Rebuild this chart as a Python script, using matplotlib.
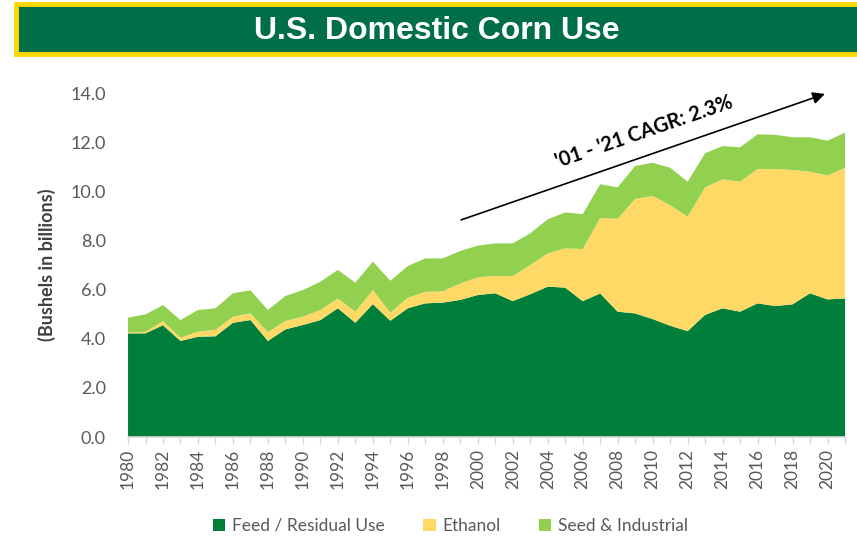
import matplotlib.pyplot as plt
import numpy as np
from matplotlib.patches import Rectangle

# Data (billions of bushels)
years = list(range(1980, 2022))
feed = [4.22, 4.22, 4.55, 3.91, 4.08, 4.10, 4.65, 4.76, 3.91, 4.38,
        4.56, 4.76, 5.24, 4.65, 5.41, 4.73, 5.24, 5.44, 5.47, 5.58,
        5.78, 5.85, 5.53, 5.81, 6.12, 6.08, 5.53, 5.84, 5.10, 5.03,
        4.80, 4.53, 4.31, 4.97, 5.24, 5.10, 5.44, 5.33, 5.40, 5.85,
        5.60, 5.64]
ethanol = [0.04, 0.06, 0.16, 0.13, 0.21, 0.26, 0.25, 0.27, 0.36, 0.34,
           0.34, 0.41, 0.40, 0.45, 0.57, 0.33, 0.43, 0.47, 0.46, 0.67,
           0.72, 0.70, 1.02, 1.19, 1.35, 1.60, 2.12, 3.07, 3.78, 4.66,
           5.01, 4.91, 4.66, 5.19, 5.25, 5.29, 5.47, 5.58, 5.47, 4.95,
           5.04, 5.32]
seed_ind = [0.60, 0.71, 0.66, 0.72, 0.88, 0.88, 0.95, 0.94, 0.90, 1.02,
            1.08, 1.15, 1.16, 1.18, 1.16, 1.30, 1.29, 1.36, 1.34, 1.32,
            1.29, 1.33, 1.33, 1.29, 1.39, 1.46, 1.42, 1.38, 1.28, 1.34,
            1.35, 1.52, 1.42, 1.39, 1.35, 1.40, 1.41, 1.39, 1.33, 1.40,
            1.42, 1.43]
series_names = ["Feed / Residual Use", "Ethanol", "Seed & Industrial"]
colors = ["#007F3A", "#FFD966", "#92D050"]

title = "U.S. Domestic Corn Use"
cagr_text = "'01 - '21 CAGR: 2.3%"

plt.rcParams['font.family'] = ['Lato', 'DejaVu Sans']

fig = plt.figure(figsize=(8.57, 5.38), dpi=100)
ax = fig.add_axes([0.1494, 0.1877, 0.8366, 0.6394])

ax.stackplot(years, feed, ethanol, seed_ind, colors=colors,
             labels=series_names, linewidth=0)

ax.set_xlim(1980, 2021)
ax.set_ylim(0, 14)
ax.set_yticks(np.arange(0, 14.1, 2))
ax.set_yticklabels([f"{v:.1f}" for v in np.arange(0, 14.1, 2)])
ax.set_xticks(range(1980, 2021, 2))
ax.set_xticks(years, minor=True)
ax.tick_params(axis='x', which='both', rotation=90, colors='#D9D9D9',
               labelcolor='#595959', labelsize=12.5, length=5, width=1)
ax.tick_params(axis='y', length=0, labelcolor='#595959', labelsize=13, pad=16)

for s in ['top', 'right', 'left']:
    ax.spines[s].set_visible(False)
ax.spines['bottom'].set_color('#D9D9D9')
ax.spines['bottom'].set_linewidth(1.2)

ax.set_ylabel("(Bushels in billions)", fontsize=13, fontweight='bold',
              color='#404040', labelpad=10)

# CAGR arrow + label
ax.annotate('', xy=(2020.0, 14.0), xytext=(1998.9, 8.8),
            arrowprops=dict(arrowstyle='-|>', color='black', lw=1.2,
                            mutation_scale=18),
            annotation_clip=False)
ax.text(2009.5, 12.4, cagr_text, rotation=19, ha='center', va='center',
        fontsize=14.5, fontweight='bold', color='black')

# Title banner
fig.patches.append(Rectangle((16 / 857, 1 - 54 / 538), 1.0, 50 / 538,
                             transform=fig.transFigure, facecolor='#006E46',
                             edgecolor='#FFD700', linewidth=3.5, zorder=0))
fig.text(437 / 857, 1 - 31 / 538, title, ha='center', va='center',
         color='white', fontsize=23, fontweight='bold',
         family=['Liberation Sans Narrow', 'Liberation Sans'])

ax.legend(loc='center', bbox_to_anchor=(0.45, -0.258), ncol=3, frameon=False,
          fontsize=12.5, labelcolor='#595959', handlelength=0.7,
          handleheight=0.7, handletextpad=0.4, columnspacing=2.2)

fig.savefig("out.png", dpi=100)
